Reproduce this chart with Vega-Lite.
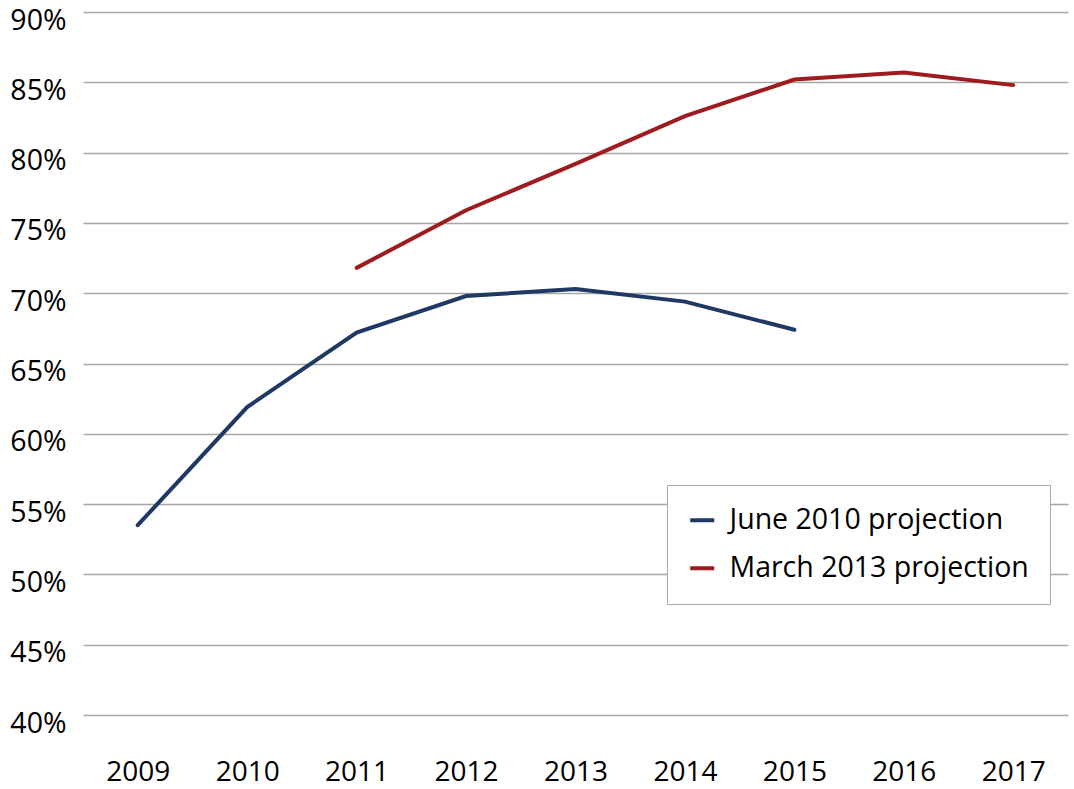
{
  "$schema": "https://vega.github.io/schema/vega-lite/v6.json",
  "autosize": {"type": "none"},
  "width": 985,
  "height": 703,
  "padding": {"left": 83, "top": 12, "right": 6, "bottom": 74},
  "background": "white",
  "config": {
    "view": {"stroke": null},
    "font": "Open Sans",
    "axis": {"labelFont": "Open Sans", "labelFontSize": 28, "labelColor": "#000", "domain": false, "ticks": false, "gridColor": "#a6a6a6", "gridWidth": 1.5}
  },
  "data": {
    "values": [
      {"year": "2009", "value": 0.535, "series": "June 2010 projection"},
      {"year": "2010", "value": 0.619, "series": "June 2010 projection"},
      {"year": "2011", "value": 0.672, "series": "June 2010 projection"},
      {"year": "2012", "value": 0.698, "series": "June 2010 projection"},
      {"year": "2013", "value": 0.703, "series": "June 2010 projection"},
      {"year": "2014", "value": 0.694, "series": "June 2010 projection"},
      {"year": "2015", "value": 0.674, "series": "June 2010 projection"},
      {"year": "2011", "value": 0.718, "series": "March 2013 projection"},
      {"year": "2012", "value": 0.759, "series": "March 2013 projection"},
      {"year": "2013", "value": 0.792, "series": "March 2013 projection"},
      {"year": "2014", "value": 0.826, "series": "March 2013 projection"},
      {"year": "2015", "value": 0.852, "series": "March 2013 projection"},
      {"year": "2016", "value": 0.857, "series": "March 2013 projection"},
      {"year": "2017", "value": 0.848, "series": "March 2013 projection"}
    ]
  },
  "mark": {"type": "line", "strokeWidth": 4, "strokeCap": "round"},
  "encoding": {
    "x": {
      "field": "year", "type": "ordinal",
      "scale": {"type": "point", "padding": 0.5},
      "axis": {"title": null, "labelAngle": 0, "grid": false, "labelPadding": 43}
    },
    "y": {
      "field": "value", "type": "quantitative",
      "scale": {"domain": [0.4, 0.9], "nice": false, "zero": false},
      "axis": {"title": null, "format": ".0%", "values": [0.4,0.45,0.5,0.55,0.6,0.65,0.7,0.75,0.8,0.85,0.9], "labelPadding": 17, "labelFontSize": 28.5, "labelOffset": 8}
    },
    "color": {
      "field": "series", "type": "nominal",
      "scale": {"domain": ["June 2010 projection", "March 2013 projection"], "range": ["#1f3864", "#9e1b20"]},
      "legend": {
        "title": null, "orient": "none", "legendX": 584, "legendY": 473,
        "fillColor": "white", "strokeColor": "#aaaaaa", "padding": 21,
        "labelFont": "Open Sans", "labelFontSize": 28.5, "labelColor": "#000",
        "symbolType": "stroke", "symbolSize": 576, "symbolStrokeWidth": 4,
        "labelOffset": 13, "rowPadding": 19, "labelLimit": 400
      }
    }
  }
}
